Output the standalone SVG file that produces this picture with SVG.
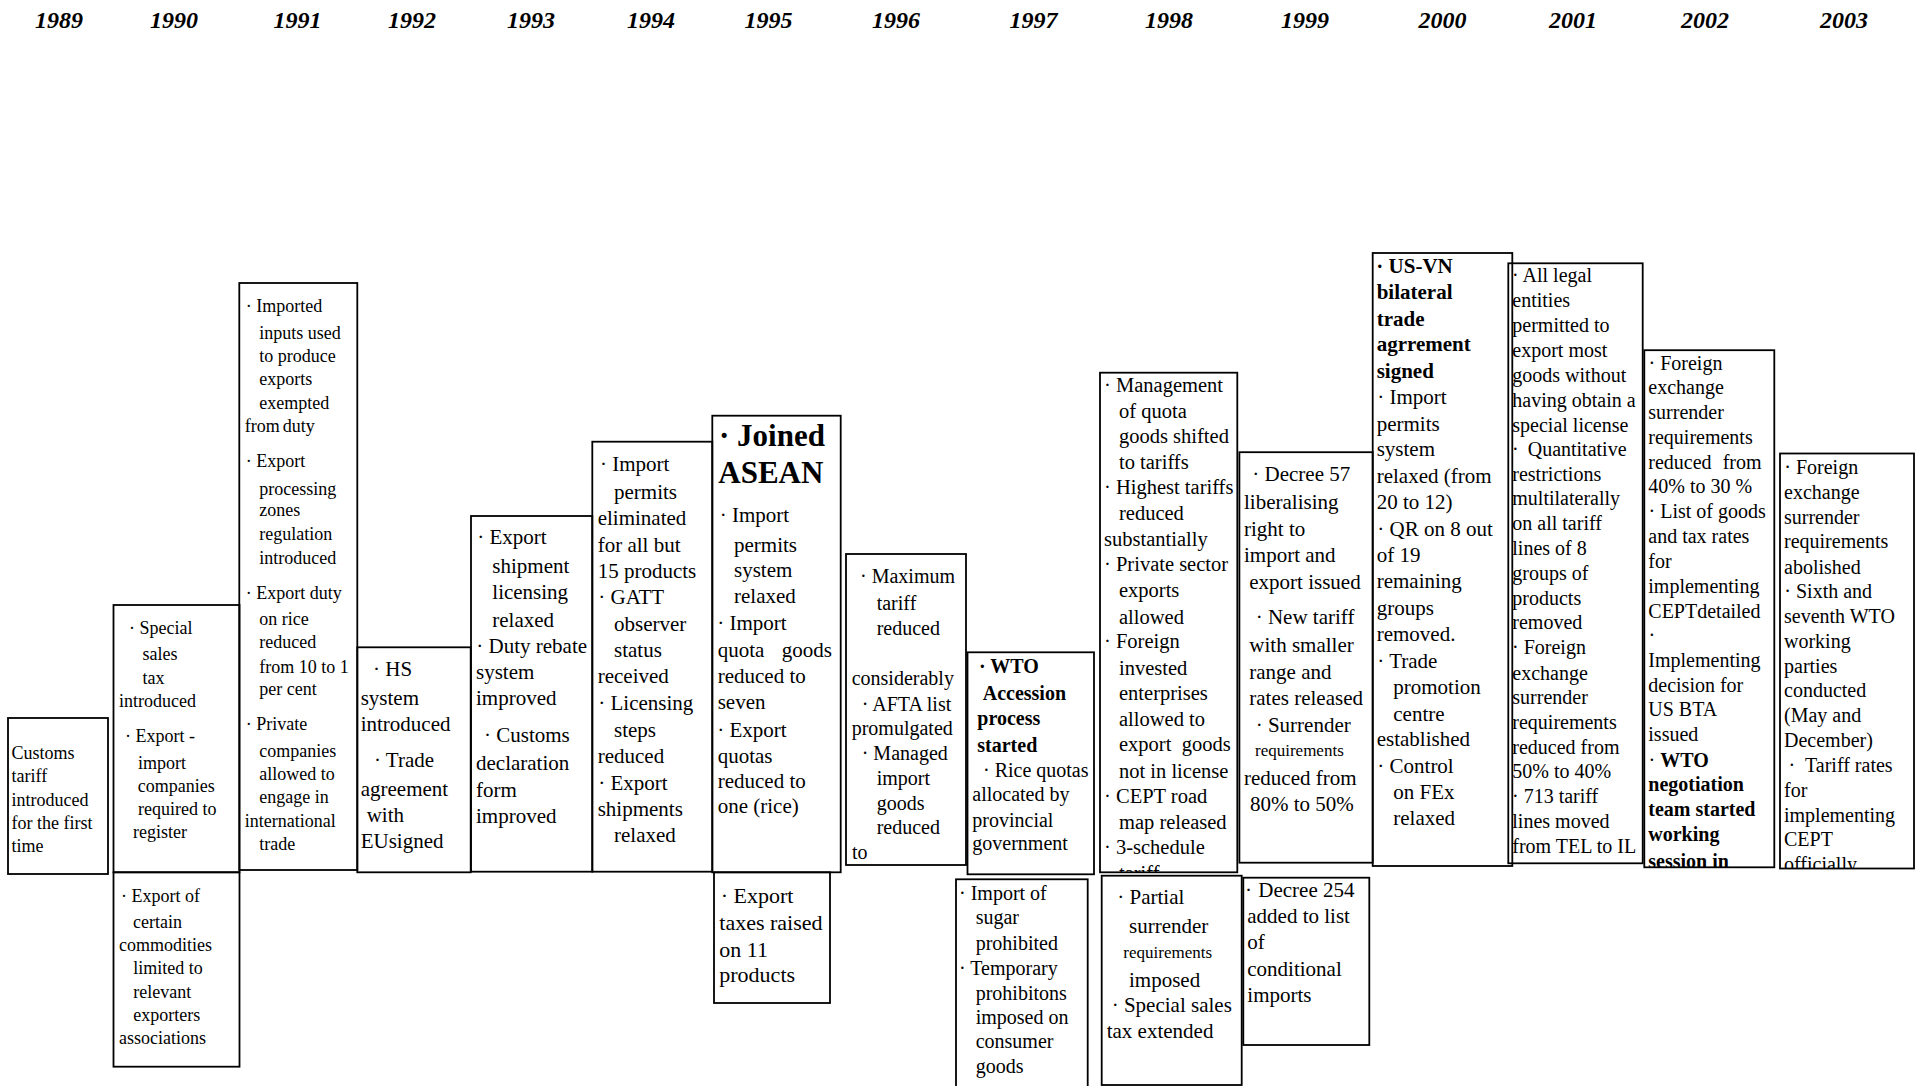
<svg xmlns="http://www.w3.org/2000/svg" width="1919" height="1086" viewBox="0 0 1919 1086">
<style>
.box{fill:none;stroke:#000;stroke-width:1.8}
text{font-family:"Liberation Serif","Times New Roman",serif;fill:#000}
.yr{font-size:24px;font-weight:bold;font-style:italic;text-anchor:middle}
.f18{font-size:18px}
.f20{font-size:20px}
.f205{font-size:20.5px}
.f21{font-size:21px}
.f22{font-size:22px}
.sm{font-size:17px}
.b{font-weight:bold}
.big{font-size:31px;font-weight:bold}
</style>
<defs>
<clipPath id="c1998"><rect x="1100" y="372.7" width="137.3" height="499.6"/></clipPath>
<clipPath id="c2002"><rect x="1644.3" y="350.2" width="130" height="517.1"/></clipPath>
<clipPath id="c2003"><rect x="1780" y="453.5" width="134" height="415"/></clipPath>
</defs>
<rect width="1919" height="1086" fill="#fff"/>
<g id="years">
<text class="yr" x="59" y="28">1989</text>
<text class="yr" x="174" y="28">1990</text>
<text class="yr" x="297.5" y="28">1991</text>
<text class="yr" x="412" y="28">1992</text>
<text class="yr" x="531" y="28">1993</text>
<text class="yr" x="651" y="28">1994</text>
<text class="yr" x="768.6" y="28">1995</text>
<text class="yr" x="896" y="28">1996</text>
<text class="yr" x="1033.5" y="28">1997</text>
<text class="yr" x="1169" y="28">1998</text>
<text class="yr" x="1305" y="28">1999</text>
<text class="yr" x="1442.5" y="28">2000</text>
<text class="yr" x="1573" y="28">2001</text>
<text class="yr" x="1705" y="28">2002</text>
<text class="yr" x="1844" y="28">2003</text>
</g>
<g id="connectors"></g>
<g id="n1989">
<rect class="box" x="8" y="718" width="100" height="156"/>
<text class="f18"><tspan x="11.5" y="759">Customs</tspan><tspan x="11.5" y="782.3">tariff</tspan><tspan x="11.5" y="805.6">introduced</tspan><tspan x="11.5" y="829">for the first</tspan><tspan x="11.5" y="852.3">time</tspan></text>
</g>
<g id="n1990a">
<rect class="box" x="113.5" y="605" width="126" height="267.3"/>
<text class="f18"><tspan x="129" y="634.3">· Special</tspan><tspan x="142.5" y="660">sales</tspan><tspan x="142.5" y="684">tax</tspan><tspan x="119" y="706.7">introduced</tspan><tspan x="125" y="741.7">· Export -</tspan><tspan x="138" y="768.5">import</tspan><tspan x="137.7" y="791.7">companies</tspan><tspan x="138" y="815">required to</tspan><tspan x="133" y="838.3">register</tspan></text>
</g>
<g id="n1990b">
<rect class="box" x="113.5" y="872.3" width="126" height="194.4"/>
<text class="f18"><tspan x="121" y="901.7">· Export of</tspan><tspan x="133" y="928.3">certain</tspan><tspan x="119" y="951">commodities</tspan><tspan x="133.3" y="974.3">limited to</tspan><tspan x="133.3" y="998.3">relevant</tspan><tspan x="133.3" y="1020.7">exporters</tspan><tspan x="119" y="1044">associations</tspan></text>
</g>
<g id="n1991">
<rect class="box" x="239.3" y="283" width="118" height="587"/>
<text class="f18"><tspan x="245.7" y="312">· Imported</tspan><tspan x="259.3" y="339">inputs used</tspan><tspan x="259.3" y="361.8">to produce</tspan><tspan x="259.3" y="384.8">exports</tspan><tspan x="259.3" y="408.5">exempted</tspan><tspan x="244.7" y="431.5">from</tspan><tspan x="282.7" y="431.5">duty</tspan><tspan x="245.7" y="467.1">· Export</tspan><tspan x="259.3" y="494.6">processing</tspan><tspan x="259.3" y="516.1">zones</tspan><tspan x="259.3" y="539.8">regulation</tspan><tspan x="259.3" y="563.5">introduced</tspan><tspan x="245.7" y="599.1">· Export duty</tspan><tspan x="259.3" y="625.1">on rice</tspan><tspan x="259.3" y="648.1">reduced</tspan><tspan x="259.3" y="672.5">from 10 to 1</tspan><tspan x="259.3" y="694.6">per cent</tspan><tspan x="245.7" y="729.5">· Private</tspan><tspan x="259.3" y="756.7">companies</tspan><tspan x="259.3" y="780">allowed to</tspan><tspan x="259.3" y="803.3">engage in</tspan><tspan x="244.7" y="826.7">international</tspan><tspan x="259.3" y="850">trade</tspan></text>
</g>
<g id="n1992">
<rect class="box" x="357.3" y="647.3" width="113.4" height="225"/>
<text class="f21"><tspan x="373" y="676">· HS</tspan><tspan x="360.7" y="705">system</tspan><tspan x="360.7" y="730.7">introduced</tspan><tspan x="374" y="766.7">· Trade</tspan><tspan x="360.7" y="795.5">agreement</tspan><tspan x="366.7" y="822.3">with</tspan><tspan x="360.7" y="848.3">EUsigned</tspan></text>
</g>
<g id="n1993">
<rect class="box" x="471" y="516" width="121.3" height="355.7"/>
<text class="f21"><tspan x="477.3" y="544">· Export</tspan><tspan x="492.3" y="572.5">shipment</tspan><tspan x="492.3" y="599.3">licensing</tspan><tspan x="492.3" y="626.7">relaxed</tspan><tspan x="476.3" y="653.3">· Duty rebate</tspan><tspan x="476" y="679.3">system</tspan><tspan x="476" y="705">improved</tspan><tspan x="484" y="741.7">· Customs</tspan><tspan x="476" y="770">declaration</tspan><tspan x="476" y="796.7">form</tspan><tspan x="476" y="822.7">improved</tspan></text>
</g>
<g id="n1994">
<rect class="box" x="592.3" y="441.7" width="120" height="430"/>
<text class="f21"><tspan x="600" y="470.7">· Import</tspan><tspan x="614" y="499">permits</tspan><tspan x="597.7" y="525">eliminated</tspan><tspan x="597.7" y="551.7">for all but</tspan><tspan x="597.7" y="578">15 products</tspan><tspan x="598.3" y="604.3">· GATT</tspan><tspan x="614" y="630.7">observer</tspan><tspan x="614" y="657.3">status</tspan><tspan x="597.7" y="683.3">received</tspan><tspan x="598.3" y="710">· Licensing</tspan><tspan x="614" y="736.7">steps</tspan><tspan x="597.7" y="762.7">reduced</tspan><tspan x="598.3" y="790">· Export</tspan><tspan x="597.7" y="816">shipments</tspan><tspan x="614" y="841.7">relaxed</tspan></text>
</g>
<g id="n1995a">
<rect class="box" x="712.3" y="415.7" width="128.4" height="456.6"/>
<text class="big"><tspan x="719" y="445.7">· Joined</tspan><tspan x="718.3" y="483.3">ASEAN</tspan></text>
<text class="f21"><tspan x="719.7" y="522.3">· Import</tspan><tspan x="734" y="551.7">permits</tspan><tspan x="734" y="576.7">system</tspan><tspan x="734" y="603.3">relaxed</tspan><tspan x="717.3" y="630">· Import</tspan><tspan x="717.7" y="656.7">quota</tspan><tspan x="781.7" y="656.7">goods</tspan><tspan x="717.7" y="683.3">reduced to</tspan><tspan x="717.7" y="709.3">seven</tspan><tspan x="717.3" y="736.7">· Export</tspan><tspan x="717.7" y="762.7">quotas</tspan><tspan x="717.7" y="788.3">reduced to</tspan><tspan x="717.7" y="813.3">one (rice)</tspan></text>
</g>
<g id="n1995b">
<rect class="box" x="714" y="872.3" width="116" height="130.7"/>
<text class="f22"><tspan x="720.7" y="902.7">· Export</tspan><tspan x="719.3" y="930">taxes raised</tspan><tspan x="719.3" y="956.7">on 11</tspan><tspan x="719.3" y="982">products</tspan></text>
</g>
<g id="n1996">
<rect class="box" x="846" y="554" width="120" height="311"/>
<text class="f20"><tspan x="860" y="583.3">· Maximum</tspan><tspan x="876.7" y="610">tariff</tspan><tspan x="876.7" y="635">reduced</tspan><tspan x="851.7" y="685">considerably</tspan><tspan x="861.7" y="710.7">· AFTA list</tspan><tspan x="851.7" y="735">promulgated</tspan><tspan x="861.7" y="760">· Managed</tspan><tspan x="876.7" y="785">import</tspan><tspan x="876.7" y="810">goods</tspan><tspan x="876.7" y="834.3">reduced</tspan><tspan x="852" y="859">to</tspan></text>
</g>
<g id="n1997a">
<rect class="box" x="967.5" y="652.3" width="126.5" height="222"/>
<text class="f20 b"><tspan x="979" y="673.3">· WTO</tspan><tspan x="982.7" y="700">Accession</tspan><tspan x="977.3" y="725">process</tspan><tspan x="977.3" y="751.7">started</tspan></text>
<text class="f20"><tspan x="983" y="776.7">· Rice quotas</tspan><tspan x="972.3" y="801">allocated by</tspan><tspan x="972.3" y="826.7">provincial</tspan><tspan x="972.3" y="850">government</tspan></text>
</g>
<g id="n1997b">
<rect class="box" x="956" y="879.3" width="131.7" height="220"/>
<text class="f20"><tspan x="959" y="900">· Import of</tspan><tspan x="975.7" y="923.5">sugar</tspan><tspan x="975.7" y="950">prohibited</tspan><tspan x="959" y="975">· Temporary</tspan><tspan x="975.7" y="1000">prohibitons</tspan><tspan x="975.7" y="1024.3">imposed on</tspan><tspan x="975.7" y="1048.3">consumer</tspan><tspan x="975.7" y="1073.3">goods</tspan></text>
</g>
<g id="n1998a">
<rect class="box" x="1100" y="372.7" width="137.3" height="499.6"/>
<text class="f205" clip-path="url(#c1998)"><tspan x="1104" y="391.8">· Management</tspan><tspan x="1119" y="417.6">of quota</tspan><tspan x="1119" y="442.9">goods shifted</tspan><tspan x="1119" y="468.6">to tariffs</tspan><tspan x="1104" y="493.9">· Highest tariffs</tspan><tspan x="1119" y="520.4">reduced</tspan><tspan x="1104" y="546">substantially</tspan><tspan x="1104" y="571.4">· Private sector</tspan><tspan x="1119" y="597">exports</tspan><tspan x="1119" y="623.7">allowed</tspan><tspan x="1104" y="648.2">· Foreign</tspan><tspan x="1119" y="674.7">invested</tspan><tspan x="1119" y="700.4">enterprises</tspan><tspan x="1119" y="725.7">allowed to</tspan><tspan x="1119" y="751.4">export</tspan><tspan x="1181.7" y="751.4">goods</tspan><tspan x="1119" y="777.6">not in license</tspan><tspan x="1104" y="803.3">· CEPT road</tspan><tspan x="1119" y="829">map released</tspan><tspan x="1104" y="854.3">· 3-schedule</tspan><tspan x="1119" y="880">tariff</tspan></text>
</g>
<g id="n1998b">
<rect class="box" x="1101.7" y="875.7" width="140" height="209.3"/>
<text class="f21"><tspan x="1117.3" y="904">· Partial</tspan><tspan x="1129" y="932.7">surrender</tspan><tspan class="sm" x="1123.3" y="958.3">requirements</tspan><tspan x="1129" y="986.7">imposed</tspan><tspan x="1111.7" y="1011.7">· Special sales</tspan><tspan x="1106.7" y="1038.3">tax extended</tspan></text>
</g>
<g id="n1999a">
<rect class="box" x="1239.4" y="452.2" width="133.3" height="410.5"/>
<text class="f21"><tspan x="1252.3" y="480.8">· Decree 57</tspan><tspan x="1244" y="509.4">liberalising</tspan><tspan x="1244" y="536">right to</tspan><tspan x="1244" y="562.4">import and</tspan><tspan x="1249.3" y="589">export issued</tspan><tspan x="1255.7" y="623.7">· New tariff</tspan><tspan x="1249.3" y="652.2">with smaller</tspan><tspan x="1249.3" y="678.8">range and</tspan><tspan x="1249.3" y="705.3">rates released</tspan><tspan x="1255.7" y="731.8">· Surrender</tspan><tspan class="sm" x="1255" y="756.3">requirements</tspan><tspan x="1244" y="784.9">reduced from</tspan><tspan x="1250" y="811.4">80% to 50%</tspan></text>
</g>
<g id="n1999b">
<rect class="box" x="1243.3" y="877.7" width="126" height="167.3"/>
<text class="f21"><tspan x="1245" y="897.3">·</tspan><tspan x="1258.3" y="897.3">Decree 254</tspan><tspan x="1247.3" y="923.3">added to list</tspan><tspan x="1247.3" y="949.3">of</tspan><tspan x="1247.3" y="976">conditional</tspan><tspan x="1247.3" y="1001.7">imports</tspan></text>
</g>
<g id="n2000">
<rect class="box" x="1372.7" y="253" width="139.6" height="613"/>
<text class="f21 b"><tspan x="1376.3" y="272.7">· US-VN</tspan><tspan x="1376.7" y="299.2">bilateral</tspan><tspan x="1376.7" y="325.7">trade</tspan><tspan x="1376.7" y="351.4">agrrement</tspan><tspan x="1376.7" y="377.6">signed</tspan></text>
<text class="f21"><tspan x="1377.3" y="404">· Import</tspan><tspan x="1376.7" y="430.6">permits</tspan><tspan x="1376.7" y="456.3">system</tspan><tspan x="1376.7" y="482.9">relaxed (from</tspan><tspan x="1376.7" y="509.4">20 to 12)</tspan><tspan x="1377.3" y="536">· QR on 8 out</tspan><tspan x="1376.7" y="562.4">of 19</tspan><tspan x="1376.7" y="588.2">remaining</tspan><tspan x="1376.7" y="614.7">groups</tspan><tspan x="1376.7" y="641.2">removed.</tspan><tspan x="1377.3" y="667.8">· Trade</tspan><tspan x="1393.3" y="694.3">promotion</tspan><tspan x="1393.3" y="720.8">centre</tspan><tspan x="1376.7" y="746.1">established</tspan><tspan x="1377.3" y="772.7">· Control</tspan><tspan x="1393.3" y="799.2">on FEx</tspan><tspan x="1393.3" y="824.5">relaxed</tspan></text>
</g>
<g id="n2001">
<rect class="box" x="1508.3" y="263.3" width="134.4" height="600"/>
<text class="f20"><tspan x="1512" y="282">· All legal</tspan><tspan x="1512.3" y="307.3">entities</tspan><tspan x="1512.3" y="331.8">permitted to</tspan><tspan x="1512.3" y="357.1">export most</tspan><tspan x="1512.3" y="382">goods without</tspan><tspan x="1512.3" y="407.3">having obtain a</tspan><tspan x="1512.3" y="431.8">special license</tspan><tspan x="1512" y="456.3">·</tspan><tspan x="1527.7" y="456.3">Quantitative</tspan><tspan x="1512.3" y="480.8">restrictions</tspan><tspan x="1512.3" y="505.3">multilaterally</tspan><tspan x="1512.3" y="529.8">on all tariff</tspan><tspan x="1512.3" y="555.1">lines of 8</tspan><tspan x="1512.3" y="580">groups of</tspan><tspan x="1512.3" y="604.5">products</tspan><tspan x="1512.3" y="629">removed</tspan><tspan x="1512" y="654.3">· Foreign</tspan><tspan x="1512.3" y="679.6">exchange</tspan><tspan x="1512.3" y="704.1">surrender</tspan><tspan x="1512.3" y="729">requirements</tspan><tspan x="1512.3" y="753.5">reduced from</tspan><tspan x="1512.3" y="778">50% to 40%</tspan><tspan x="1512" y="803.3">· 713 tariff</tspan><tspan x="1512.3" y="827.8">lines moved</tspan><tspan x="1512.3" y="853">from TEL to IL</tspan></text>
</g>
<g id="n2002">
<rect class="box" x="1644.3" y="350.2" width="130" height="517.1"/>
<text class="f20" clip-path="url(#c2002)"><tspan x="1648.5" y="369.8">· Foreign</tspan><tspan x="1648.3" y="394.3">exchange</tspan><tspan x="1648.3" y="418.8">surrender</tspan><tspan x="1648.3" y="444.1">requirements</tspan><tspan x="1648.3" y="468.6">reduced</tspan><tspan x="1722.7" y="468.6">from</tspan><tspan x="1648.3" y="493">40% to 30 %</tspan><tspan x="1648.5" y="518.4">· List of goods</tspan><tspan x="1648.3" y="543.3">and tax rates</tspan><tspan x="1648.3" y="567.8">for</tspan><tspan x="1648.3" y="593.1">implementing</tspan><tspan x="1648.3" y="617.6">CEPTdetailed</tspan><tspan x="1648.5" y="642">·</tspan><tspan x="1648.3" y="666.5">Implementing</tspan><tspan x="1648.3" y="691.8">decision for</tspan><tspan x="1648.3" y="716.3">US BTA</tspan><tspan x="1648.3" y="741.2">issued</tspan><tspan x="1648.5" y="766.5">· </tspan><tspan class="b">WTO</tspan><tspan class="b" x="1648.3" y="791">negotiation</tspan><tspan class="b" x="1648.3" y="816.3">team started</tspan><tspan class="b" x="1648.3" y="841.2">working</tspan><tspan class="b" x="1648.3" y="868">session in</tspan></text>
</g>
<g id="n2003">
<rect class="box" x="1780" y="453.5" width="134" height="415"/>
<text class="f20" clip-path="url(#c2003)"><tspan x="1784.3" y="473.5">· Foreign</tspan><tspan x="1784" y="499.2">exchange</tspan><tspan x="1784" y="523.7">surrender</tspan><tspan x="1784" y="548.2">requirements</tspan><tspan x="1784" y="573.5">abolished</tspan><tspan x="1784.3" y="598.4">· Sixth and</tspan><tspan x="1784" y="622.9">seventh WTO</tspan><tspan x="1784" y="648.2">working</tspan><tspan x="1784" y="672.7">parties</tspan><tspan x="1784" y="697.1">conducted</tspan><tspan x="1784" y="722.4">(May and</tspan><tspan x="1784" y="746.9">December)</tspan><tspan x="1788.5" y="771.8">·</tspan><tspan x="1805" y="771.8">Tariff rates</tspan><tspan x="1784" y="797.1">for</tspan><tspan x="1784" y="821.6">implementing</tspan><tspan x="1784" y="846.1">CEPT</tspan><tspan x="1784" y="870.6">officially</tspan></text>
</g>
</svg>
